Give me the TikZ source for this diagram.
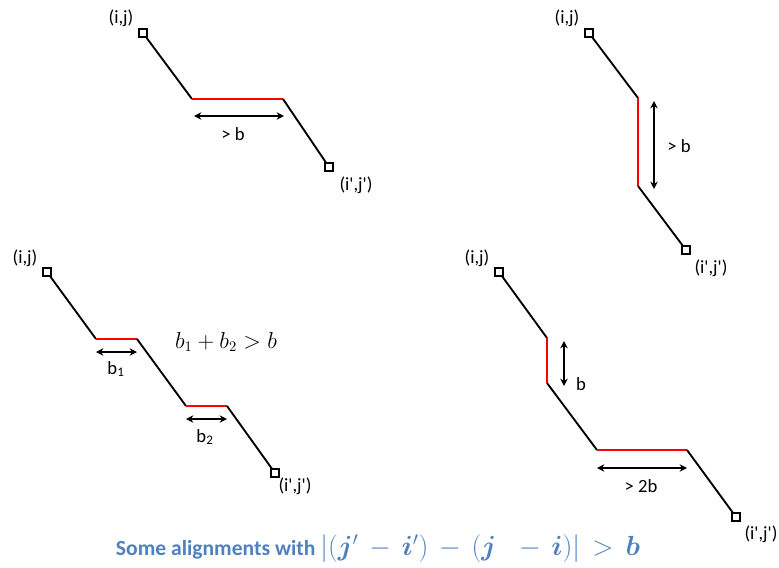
\documentclass[tikz,border=0pt]{standalone}
\usepackage{fontspec}
\setmainfont{Carlito}
\usetikzlibrary{arrows.meta}
\definecolor{titleblue}{RGB}{79,129,189}
\DeclareMathAlphabet{\mathbi}{OML}{cmm}{b}{it}
\newcommand{\qs}{\textquotesingle}
\begin{document}
\begin{tikzpicture}[x=0.75pt,y=-0.75pt,
  sq/.style={draw,line width=1.4pt,minimum size=6.4pt,inner sep=0pt,fill=white},
  path/.style={line width=1.4pt,black},
  gap/.style={line width=1.8pt,red},
  dim/.style={line width=1.3pt,{Stealth[length=5.5pt,width=5.5pt]}-{Stealth[length=5.5pt,width=5.5pt]}},
  lbl/.style={font=\fontsize{14}{16}\selectfont,inner sep=1pt}]
\useasboundingbox (0,0) rectangle (779,568);

% Panel 1
\coordinate (p1b) at (192,99);
\coordinate (p1c) at (283,99);
\draw[path] (143,33) -- (p1b);
\draw[gap] (p1b) -- (p1c);
\draw[path] (p1c) -- (329,167);
\node[sq] (p1s) at (143,33) {};
\node[sq] (p1e) at (329,167) {};
\coordinate (p1d1) at (194,116);
\coordinate (p1d2) at (284,116);
\draw[dim] (p1d1) -- (p1d2);
\node[lbl] (p1l) at (233,134) {> b};
\node[lbl] (p1t1) at (121,18) {(i,j)};
\node[lbl] (p1t2) at (356,185) {(i\qs,j\qs)};

% Panel 2
\coordinate (p2b) at (638,98);
\coordinate (p2c) at (638,186);
\draw[path] (589,33) -- (p2b);
\draw[gap] (p2b) -- (p2c);
\draw[path] (p2c) -- (686,250);
\node[sq] (p2s) at (589,33) {};
\node[sq] (p2e) at (686,250) {};
\coordinate (p2d1) at (654,101);
\coordinate (p2d2) at (654,189);
\draw[dim] (p2d1) -- (p2d2);
\node[lbl] (p2l) at (679,146) {> b};
\node[lbl] (p2t1) at (567,18) {(i,j)};
\node[lbl] (p2t2) at (711,268) {(i\qs,j\qs)};

% Panel 3
\coordinate (p3b) at (96,339);
\coordinate (p3c) at (137,339);
\coordinate (p3d) at (186,406);
\coordinate (p3e) at (227,406);
\draw[path] (47,272) -- (p3b);
\draw[gap] (p3b) -- (p3c);
\draw[path] (p3c) -- (p3d);
\draw[gap] (p3d) -- (p3e);
\draw[path] (p3e) -- (275,473);
\node[sq] (p3s) at (47,272) {};
\node[sq] (p3f) at (275,473) {};
\coordinate (p3a1) at (96,352);
\coordinate (p3a2) at (137,352);
\draw[dim] (p3a1) -- (p3a2);
\coordinate (p3a3) at (186,419);
\coordinate (p3a4) at (227,419);
\draw[dim] (p3a3) -- (p3a4);
\node[lbl] (p3l1) at (116,369) {b\textsubscript{1}};
\node[lbl] (p3l2) at (205,437) {b\textsubscript{2}};
\node[font=\fontsize{16}{18}\selectfont,inner sep=1pt] (p3m) at (226,342) {$b_1+b_2>b$};
\node[lbl] (p3t1) at (25,258) {(i,j)};
\node[lbl] (p3t2) at (295,486) {(i\qs,j\qs)};

% Panel 4
\coordinate (p4b) at (547,338);
\coordinate (p4c) at (547,383);
\coordinate (p4d) at (597,450);
\coordinate (p4e) at (687,450);
\draw[path] (499,272) -- (p4b);
\draw[gap] (p4b) -- (p4c);
\draw[path] (p4c) -- (p4d);
\draw[gap] (p4d) -- (p4e);
\draw[path] (p4e) -- (736,517);
\node[sq] (p4s) at (499,272) {};
\node[sq] (p4f) at (736,517) {};
\coordinate (p4a1) at (564,341);
\coordinate (p4a2) at (564,386);
\draw[dim] (p4a1) -- (p4a2);
\coordinate (p4a3) at (597,468);
\coordinate (p4a4) at (687,468);
\draw[dim] (p4a3) -- (p4a4);
\node[lbl] (p4l1) at (581,384) {b};
\node[lbl] (p4l2) at (641,486) {> 2b};
\node[lbl] (p4t1) at (477,258) {(i,j)};
\node[lbl] (p4t2) at (761,534) {(i\qs,j\qs)};

% Title
\node[font=\fontsize{16.2}{20}\selectfont\bfseries,text=titleblue,inner sep=0pt] (title) at (378,549) {Some alignments with {\fontsize{19.5}{22}\selectfont\medmuskip=7mu\thickmuskip=8mu $|(\mathbi{j}'-\mathbi{i}')-(\mathbi{j}\;-\mathbi{i})|>\mathbi{b}$}};
\end{tikzpicture}
\end{document}
